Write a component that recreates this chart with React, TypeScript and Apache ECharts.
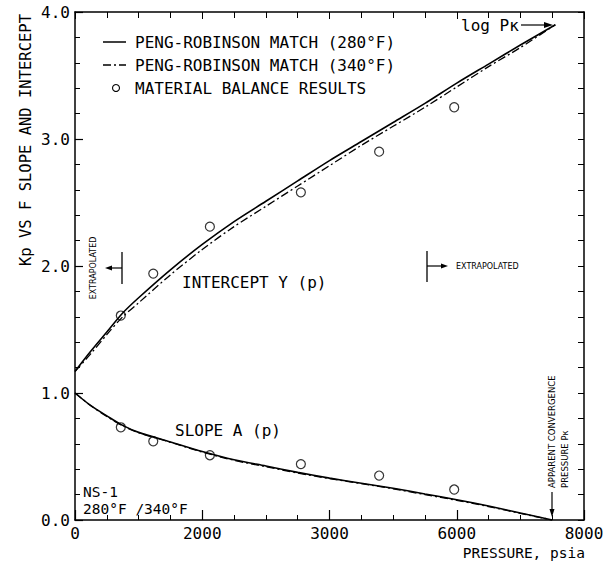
import React, { useEffect, useRef } from "react";
import * as echarts from "echarts";

// Peng-Robinson intercept Y(p)
const interceptP = [0, 250, 500, 750, 1000, 1500, 2000, 2500, 3000, 3500, 4000, 4500, 5000, 5500, 6000, 6500, 7000, 7550];
const intercept280 = [1.17, 1.33, 1.48, 1.63, 1.75, 1.97, 2.17, 2.35, 2.51, 2.67, 2.83, 2.98, 3.13, 3.28, 3.44, 3.59, 3.74, 3.9];
const intercept340 = [1.17, 1.31, 1.46, 1.60, 1.71, 1.93, 2.13, 2.31, 2.47, 2.63, 2.79, 2.95, 3.10, 3.25, 3.41, 3.57, 3.72, 3.9];

// Peng-Robinson slope A(p)
const slopeP = [0, 250, 500, 750, 1000, 1500, 2000, 2500, 3000, 3500, 4000, 4500, 5000, 5500, 6000, 6500, 7000, 7500];
const slope280 = [1.0, 0.9, 0.82, 0.745, 0.69, 0.615, 0.54, 0.475, 0.425, 0.375, 0.33, 0.29, 0.25, 0.205, 0.16, 0.11, 0.055, 0.0];
const slope340 = [1.0, 0.9, 0.815, 0.742, 0.688, 0.612, 0.535, 0.47, 0.42, 0.37, 0.326, 0.286, 0.246, 0.2, 0.155, 0.106, 0.052, 0.0];

// Material balance results
const mbP = [720, 1230, 2120, 3550, 4780, 5960];
const mbIntercept = [1.61, 1.94, 2.31, 2.58, 2.9, 3.25];
const mbSlope = [0.73, 0.62, 0.51, 0.44, 0.35, 0.24];

const xTickLabels = ["0", "2000", "3000", "6000", "8000"];

const MONO = "DejaVu Sans Mono";
const SANS = "DejaVu Sans";

const pairs = (xs: number[], ys: number[]) => xs.map((x, i) => [x, ys[i]]);

export default function App() {
  const ref = useRef<HTMLDivElement>(null);
  useEffect(() => {
    if (!ref.current) return;
    const chart = echarts.init(ref.current, undefined, { renderer: "svg" });
    const black = "#000";
    const axisCommon = {
      axisLine: { onZero: false, lineStyle: { color: black, width: 1.5 } },
      splitLine: { show: false },
    };
    const solid = { color: black, width: 1.6, type: "solid" };
    const dashdot = { color: black, width: 1.3, type: [8, 3, 2, 3] };
    const txt = (x: number, y: number, text: string, size: number, extra: any = {}) => ({
      type: "text",
      x,
      y,
      style: {
        text,
        font: `${size}px '${extra.family || MONO}'`,
        fill: black,
        textAlign: extra.align || "left",
        textVerticalAlign: "middle",
      },
      rotation: extra.rotation || 0,
    });
    const ln = (x1: number, y1: number, x2: number, y2: number, w = 1.3, dash?: number[]) => ({
      type: "line",
      shape: { x1, y1, x2, y2 },
      style: { stroke: black, lineWidth: w, lineDash: dash },
    });
    const head = (pts: number[][]) => ({
      type: "polygon",
      shape: { points: pts },
      style: { fill: black },
    });
    chart.setOption({
      animation: false,
      backgroundColor: "#fff",
      grid: { left: 75, right: 32, top: 12, bottom: 41 },
      xAxis: [
        {
          type: "value",
          min: 0,
          max: 8000,
          interval: 2000,
          position: "bottom",
          ...axisCommon,
          axisTick: { inside: true, length: 10, lineStyle: { color: black, width: 1.2 } },
          minorTick: { show: true, splitNumber: 4, length: 5, lineStyle: { color: black, width: 1 } },
          axisLabel: {
            color: black,
            fontFamily: MONO,
            fontSize: 16,
            margin: 5,
            formatter: (v: number) => xTickLabels[Math.round(v / 2000)] ?? "",
          },
        },
        {
          type: "value",
          min: 0,
          max: 8000,
          interval: 2000,
          position: "top",
          ...axisCommon,
          axisTick: { inside: true, length: 7, lineStyle: { color: black, width: 1 } },
          minorTick: { show: true, splitNumber: 4, length: 6, lineStyle: { color: black, width: 1 } },
          axisLabel: { show: false },
        },
      ],
      yAxis: [
        {
          type: "value",
          min: 0,
          max: 4,
          interval: 1,
          position: "left",
          ...axisCommon,
          axisTick: { inside: true, length: 8, lineStyle: { color: black, width: 1.2 } },
          minorTick: { show: true, splitNumber: 5, length: 5, lineStyle: { color: black, width: 1 } },
          axisLabel: {
            color: black,
            fontFamily: MONO,
            fontSize: 16,
            margin: 5,
            formatter: (v: number) => v.toFixed(1),
          },
        },
        {
          type: "value",
          min: 0,
          max: 4,
          interval: 1,
          position: "right",
          ...axisCommon,
          axisTick: { inside: true, length: 6, lineStyle: { color: black, width: 1 } },
          minorTick: { show: true, splitNumber: 5, length: 6, lineStyle: { color: black, width: 1 } },
          axisLabel: { show: false },
        },
      ],
      series: [
        {
          name: "PENG-ROBINSON MATCH (280°F)",
          type: "line",
          data: pairs(interceptP, intercept280),
          showSymbol: false,
          smooth: 0.3,
          lineStyle: solid,
        },
        {
          name: "PENG-ROBINSON MATCH (340°F)",
          type: "line",
          data: pairs(interceptP, intercept340),
          showSymbol: false,
          smooth: 0.3,
          lineStyle: dashdot,
        },
        {
          name: "slope 280",
          type: "line",
          data: pairs(slopeP, slope280),
          showSymbol: false,
          smooth: 0.3,
          lineStyle: solid,
        },
        {
          name: "slope 340",
          type: "line",
          data: pairs(slopeP, slope340),
          showSymbol: false,
          smooth: 0.3,
          lineStyle: dashdot,
        },
        {
          name: "MATERIAL BALANCE RESULTS",
          type: "scatter",
          data: pairs(mbP, mbIntercept).concat(pairs(mbP, mbSlope)),
          symbol: "circle",
          symbolSize: 9,
          itemStyle: { color: "rgba(0,0,0,0)", borderColor: black, borderWidth: 1.2 },
          z: 5,
        },
      ],
      graphic: [
        // y-axis title
        txt(26, 140, "Kp VS F SLOPE AND INTERCEPT", 15.5, { rotation: Math.PI / 2, align: "center" }),
        // x-axis title
        txt(585, 553, "PRESSURE, psia", 14.5, { align: "right" }),
        // legend
        ln(103, 42, 126, 42, 1.5),
        txt(135, 42, "PENG-ROBINSON MATCH (280°F)", 16),
        ln(103, 65, 126, 65, 1.3, [8, 3, 2, 3]),
        txt(135, 65, "PENG-ROBINSON MATCH (340°F)", 16),
        { type: "circle", shape: { cx: 116, cy: 88, r: 3.5 }, style: { fill: "none", stroke: black, lineWidth: 1.1 } },
        txt(135, 88, "MATERIAL BALANCE RESULTS", 16),
        // log Pk
        txt(461, 25, "log Pκ", 16),
        ln(521, 25, 546, 25, 1.2),
        head([[553, 25], [544, 22], [544, 28]]),
        // curve labels
        txt(182, 282, "INTERCEPT Y (p)", 16),
        txt(175, 430, "SLOPE A (p)", 16),
        txt(83, 492, "NS-1", 14.5),
        txt(83, 509, "280°F /340°F", 14.5),
        // left extrapolated marker
        ln(122, 252, 122, 284, 1.3),
        ln(122, 268, 110, 268, 1.2),
        head([[105, 268], [112, 265.5], [112, 270.5]]),
        txt(93, 268, "EXTRAPOLATED", 8, { rotation: Math.PI / 2, align: "center", family: SANS }),
        // right extrapolated marker
        ln(427, 251, 427, 282, 1.3),
        ln(427, 266, 442, 266, 1.2),
        head([[448, 266], [441, 263.5], [441, 268.5]]),
        txt(456, 266, "EXTRAPOLATED", 8, { family: SANS }),
        // apparent convergence pressure
        txt(552, 488, "APPARENT CONVERGENCE", 8.5, { rotation: Math.PI / 2, family: SANS }),
        txt(565, 488, "PRESSURE Pκ", 8.5, { rotation: Math.PI / 2, family: SANS }),
        ln(552, 492, 552, 510, 1.2),
        head([[552, 517], [549.5, 509], [554.5, 509]]),
      ],
    });
    return () => chart.dispose();
  }, []);
  return (
    <div
      ref={ref}
      style={{ position: "absolute", left: 0, top: 0, width: 616, height: 561, background: "#fff" }}
    />
  );
}
